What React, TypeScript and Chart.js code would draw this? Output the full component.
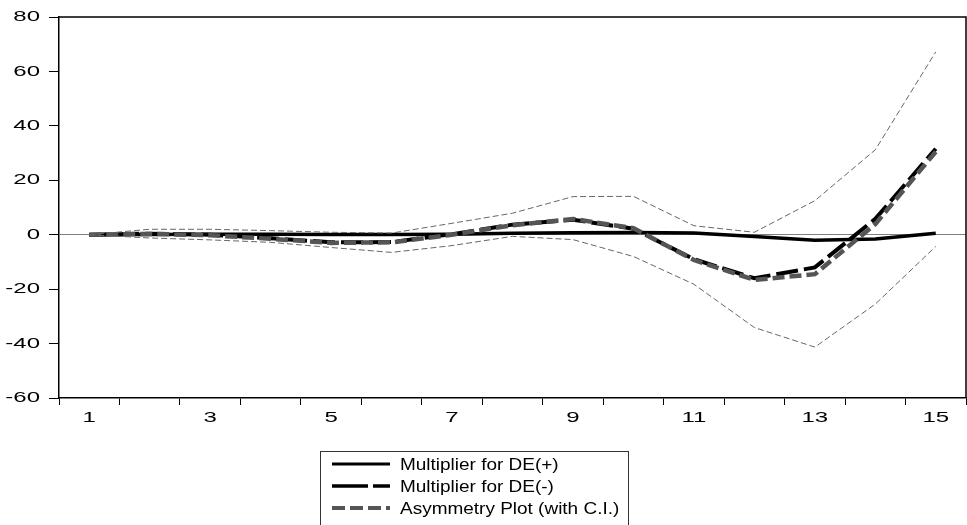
import { useEffect, useRef } from 'react';
import { Chart, registerables } from 'chart.js';

Chart.register(...registerables);

// ---- data ----
const categories = ['1', '2', '3', '4', '5', '6', '7', '8', '9', '10', '11', '12', '13', '14', '15'];
const xTickLabels = ['1', '', '3', '', '5', '', '7', '', '9', '', '11', '', '13', '', '15'];
const yTickValues = [-60, -40, -20, 0, 20, 40, 60, 80];

const multiplierPos = [0, 0.1, 0.2, 0.2, 0.1, 0.1, 0.2, 0.5, 0.7, 0.8, 0.6, -0.7, -2.0, -1.6, 0.5];
const multiplierNeg = [0, 0.4, 0.0, -1.3, -2.8, -2.7, 0.2, 3.7, 5.5, 2.2, -9.0, -16.0, -12.0, 5.8, 31.6];
const asymmetry = [0, 0.3, -0.2, -1.5, -3.0, -2.8, 0.0, 3.5, 5.8, 2.4, -9.3, -16.6, -14.5, 3.9, 30.5];
const upperCI = [0, 2.0, 2.0, 1.5, 0.9, 0.6, 4.2, 7.9, 14.0, 14.1, 3.3, 0.9, 12.5, 31.2, 67.2];
const lowerCI = [0, -1.2, -1.9, -2.8, -4.7, -6.5, -4.0, -0.6, -1.8, -8.0, -18.2, -34.1, -41.3, -25.5, -4.3];

const legendLabels = ['Multiplier for DE(+)', 'Multiplier for DE(-)', 'Asymmetry Plot (with C.I.)'];

const FONT = "'Liberation Sans', Arial, Helvetica, sans-serif";
const AXIS_STRETCH = 1.6;
const LEGEND_STRETCH = 1.15;

function stretchedText(ctx: any, text: string, x: number, y: number, sx: number, align: string) {
  ctx.save();
  ctx.translate(x, y);
  ctx.scale(sx, 1);
  ctx.textAlign = align;
  ctx.fillText(text, 0, 0);
  ctx.restore();
}

const frameLabelsLegend = {
  id: 'frameLabelsLegend',
  afterDraw(chart: any) {
    const { ctx, chartArea } = chart;
    const xs = chart.scales.x;
    const ys = chart.scales.y;
    ctx.save();
    // top & right frame
    ctx.strokeStyle = '#000';
    ctx.lineWidth = 1.5;
    ctx.beginPath();
    ctx.moveTo(chartArea.left, chartArea.top);
    ctx.lineTo(chartArea.right, chartArea.top);
    ctx.lineTo(chartArea.right, chartArea.bottom);
    ctx.stroke();

    // axis tick labels (wide type, as in the reference)
    ctx.fillStyle = '#000';
    ctx.font = `15px ${FONT}`;
    ctx.textBaseline = 'middle';
    ys.ticks.forEach((t: any) => {
      const y = ys.getPixelForValue(t.value);
      stretchedText(ctx, String(t.value), chartArea.left - 19, y, AXIS_STRETCH, 'right');
    });
    xTickLabels.forEach((lab, i) => {
      if (!lab) return;
      const x = xs.getPixelForValue(i);
      stretchedText(ctx, lab, x, chartArea.bottom + 20, AXIS_STRETCH, 'center');
    });

    // legend box
    const bx = 320.5, by = 451.5, bw = 308, bh = 120;
    ctx.lineWidth = 1;
    ctx.strokeStyle = '#333';
    ctx.strokeRect(bx, by, bw, bh);

    const rows = [464, 486, 508];
    const x0 = 332, x1 = 390;
    const styles = [
      { color: '#000', width: 3, dash: [] as number[] },
      { color: '#000', width: 3.5, dash: [36, 5] },
      { color: '#555', width: 4, dash: [13, 5] },
    ];
    styles.forEach((s, i) => {
      ctx.beginPath();
      ctx.setLineDash(s.dash);
      ctx.strokeStyle = s.color;
      ctx.lineWidth = s.width;
      ctx.moveTo(x0, rows[i]);
      ctx.lineTo(x1, rows[i]);
      ctx.stroke();
    });
    ctx.setLineDash([]);
    ctx.fillStyle = '#000';
    ctx.font = `16.5px ${FONT}`;
    ctx.textBaseline = 'middle';
    legendLabels.forEach((t, i) => stretchedText(ctx, t, 400, rows[i] + 1, LEGEND_STRETCH, 'left'));
    ctx.restore();
  },
};

export default function App() {
  const ref = useRef<HTMLCanvasElement>(null);

  useEffect(() => {
    document.body.style.margin = '0';
    const canvas = ref.current!;
    const chart = new Chart(canvas, {
      type: 'line',
      data: {
        labels: categories,
        datasets: [
          {
            label: legendLabels[0],
            data: multiplierPos,
            borderColor: '#000',
            borderWidth: 3.5,
            pointRadius: 0,
            tension: 0,
            order: 5,
          },
          {
            label: legendLabels[1],
            data: multiplierNeg,
            borderColor: '#000',
            borderWidth: 4,
            borderDash: [22, 6],
            pointRadius: 0,
            tension: 0,
            order: 4,
          },
          {
            label: legendLabels[2],
            data: asymmetry,
            borderColor: '#555',
            borderWidth: 4.5,
            borderDash: [12, 5],
            pointRadius: 0,
            tension: 0,
            order: 3,
          },
          {
            label: 'Upper C.I.',
            data: upperCI,
            borderColor: '#666',
            borderWidth: 1,
            borderDash: [6, 3],
            pointRadius: 0,
            tension: 0,
            order: 2,
          },
          {
            label: 'Lower C.I.',
            data: lowerCI,
            borderColor: '#666',
            borderWidth: 1,
            borderDash: [6, 3],
            pointRadius: 0,
            tension: 0,
            order: 1,
          },
        ],
      },
      options: {
        responsive: false,
        animation: false,
        devicePixelRatio: 1,
        layout: { padding: { top: 17, right: 1, left: 0, bottom: 0 } },
        plugins: {
          legend: { display: false },
          tooltip: { enabled: false },
          title: { display: false },
        },
        scales: {
          x: {
            type: 'category',
            offset: true,
            afterFit: (s: any) => {
              s.height = 127;
            },
            border: { display: true, color: '#000', width: 1.5 },
            grid: {
              offset: true,
              drawOnChartArea: false,
              drawTicks: true,
              tickLength: 7,
              color: '#000',
              tickColor: '#000',
              tickWidth: 1,
            },
            ticks: {
              display: false,
              autoSkip: false,
              maxRotation: 0,
            },
          },
          y: {
            min: yTickValues[0],
            max: yTickValues[yTickValues.length - 1],
            afterFit: (s: any) => {
              s.width = 59;
            },
            afterBuildTicks: (s: any) => {
              s.ticks = yTickValues.map((v) => ({ value: v }));
            },
            border: { display: true, color: '#000', width: 1.5 },
            grid: {
              drawOnChartArea: true,
              drawTicks: true,
              tickLength: 10,
              color: (c: any) => (c.tick && c.tick.value === 0 ? '#808080' : 'rgba(0,0,0,0)'),
              tickColor: '#000',
              lineWidth: 1,
            },
            ticks: {
              display: false,
            },
          },
        },
      },
      plugins: [frameLabelsLegend],
    });
    return () => chart.destroy();
  }, []);

  return (
    <div style={{ position: 'fixed', left: 0, top: 0, width: 967, height: 525, background: '#fff' }}>
      <canvas ref={ref} width={967} height={525} style={{ width: '967px', height: '525px' }} />
    </div>
  );
}
